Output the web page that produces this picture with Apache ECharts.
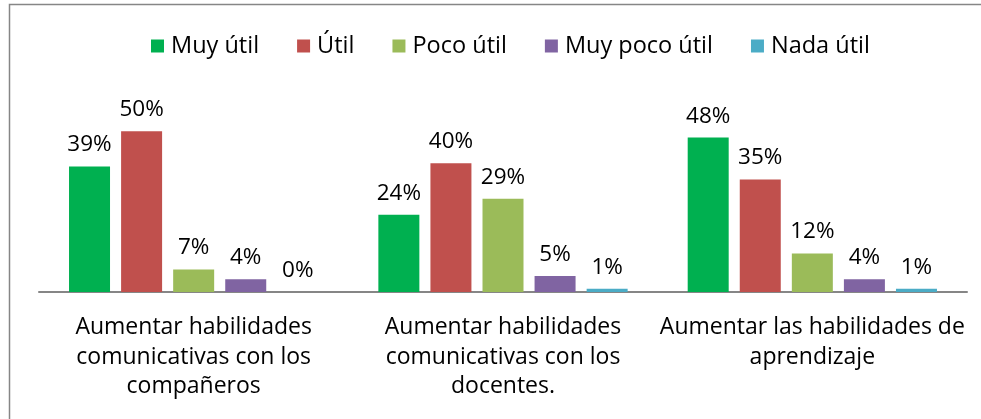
<!DOCTYPE html>
<html>
<head>
<meta charset="utf-8">
<script src="https://cdn.jsdelivr.net/npm/echarts@6/dist/echarts.min.js"></script>
<style>
html,body{margin:0;padding:0;background:#fff;}
#main{width:981px;height:419px;}
</style>
</head>
<body>
<div id="main"></div>
<script>
var categories = [
  'Aumentar habilidades\ncomunicativas con los\ncompañeros',
  'Aumentar habilidades\ncomunicativas con los\ndocentes.',
  'Aumentar las habilidades de\naprendizaje'
];
var seriesNames = ['Muy útil', 'Útil', 'Poco útil', 'Muy poco útil', 'Nada útil'];
var colors = ['#00B050', '#C0504D', '#9BBB59', '#8064A2', '#4BACC6'];
var muyUtil = [39, 24, 48];
var util = [50, 40, 35];
var pocoUtil = [7, 29, 12];
var muyPocoUtil = [4, 5, 4];
var nadaUtil = [0, 1, 1];
var values = [muyUtil, util, pocoUtil, muyPocoUtil, nadaUtil];

var font = 'Open Sans, Lato, sans-serif';
var myChart = echarts.init(document.getElementById('main'));

var series = seriesNames.map(function (name, i) {
  return {
    name: name,
    type: 'bar',
    data: values[i],
    barWidth: 41,
    barGap: '27%',
    itemStyle: {color: colors[i]},
    label: {
      show: true,
      position: 'top',
      distance: 10,
      formatter: '{c}%',
      color: '#000',
      fontSize: 22.5,
      fontFamily: font
    }
  };
});

var option = {
  animation: false,
  color: colors,
  graphic: [{
    type: 'rect',
    shape: {x: 9.5, y: 4.5, width: 980, height: 420},
    style: {fill: null, stroke: '#868686', lineWidth: 1.5},
    silent: true
  }],
  legend: {
    data: seriesNames,
    top: 29,
    left: 146,
    itemWidth: 13,
    itemHeight: 13,
    itemGap: 38,
    icon: 'rect',
    textStyle: {fontSize: 23.5, color: '#000', fontFamily: font, padding: [0, 0, 0, 2]}
  },
  grid: {left: 39, right: 14, top: 99, bottom: 127},
  xAxis: {
    type: 'category',
    data: categories,
    axisLine: {lineStyle: {color: '#868686', width: 2}},
    axisTick: {show: false},
    axisLabel: {
      fontSize: 23,
      color: '#000',
      fontFamily: font,
      lineHeight: 29.5,
      margin: 21,
      interval: 0
    }
  },
  yAxis: {
    type: 'value',
    min: 0,
    max: 60,
    show: false
  },
  series: series
};

myChart.setOption(option);
</script>
</body>
</html>
